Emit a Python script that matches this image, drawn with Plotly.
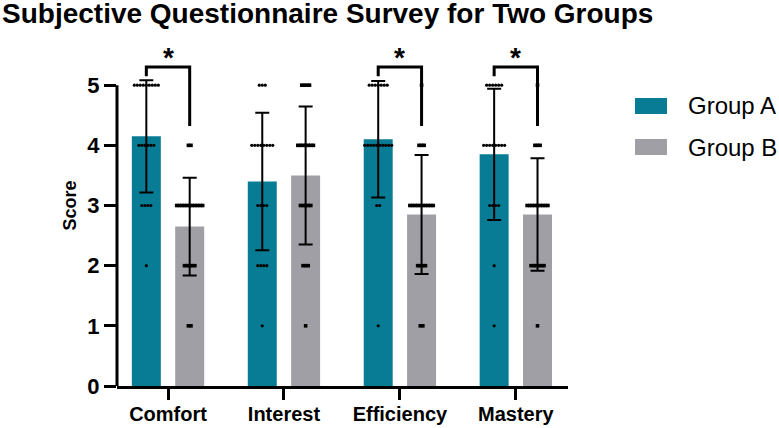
import numpy as np
import plotly.graph_objects as go

# ---------------- data ----------------
categories = ["Comfort", "Interest", "Efficiency", "Mastery"]
score_levels = [5, 4, 3, 2, 1]
# number of respondents giving each score level (5,4,3,2,1) per category
group_a_counts = [[9, 6, 4, 1, 0], [3, 8, 4, 4, 1], [7, 10, 2, 0, 1], [6, 8, 4, 1, 1]]
group_b_counts = [[0, 2, 11, 5, 2], [4, 7, 5, 3, 1], [1, 3, 10, 4, 2], [1, 3, 9, 6, 1]]
significant = ["Comfort", "Efficiency", "Mastery"]
y_ticks = [0, 1, 2, 3, 4, 5]
group_names = ["Group A", "Group B"]
group_colors = ["#087C94", "#A19FA6"]

# ---------------- layout constants ----------------
W, H = 779, 428
ML, MR, MT, MB = 117, 211, 25, 42
XR = [-0.44, 3.45]
YR = [0, 6]
PW = W - ML - MR
PH = H - MT - MB
px_per_x = PW / (XR[1] - XR[0])
OFF = 0.187
BW = 0.25
FONT = "Arial, Liberation Sans, sans-serif"


def px2paper_x(px):
    return (px - ML) / PW


def px2paper_y(py):
    return (H - MB - py) / PH


def expand(counts):
    vals = []
    for lvl, c in zip(score_levels, counts):
        vals += [lvl] * c
    return np.array(vals, dtype=float)


fig = go.Figure()

groups = [group_a_counts, group_b_counts]
marker_cfg = [dict(symbol="circle", size=3.2, spacing=3.0),
              dict(symbol="square", size=3.6, spacing=2.6)]

for g, (counts_all, name, color) in enumerate(zip(groups, group_names, group_colors)):
    sign = -1 if g == 0 else 1
    xs = [i + sign * OFF for i in range(len(categories))]
    data = [expand(c) for c in counts_all]
    means = [d.mean() for d in data]
    sds = [d.std(ddof=1) for d in data]
    fig.add_trace(go.Bar(
        x=xs, y=means, width=BW, name=name,
        marker=dict(color=color, line=dict(width=0)),
        error_y=dict(type="data", array=sds, visible=True,
                     color="black", thickness=2, width=7),
        showlegend=False,
    ))
    # individual points
    dx, dy = [], []
    cfg = marker_cfg[g]
    sp = cfg["spacing"] / px_per_x
    for i, counts in enumerate(counts_all):
        for lvl, c in zip(score_levels, counts):
            if c == 0:
                continue
            s = sp
            if (c - 1) * s > BW * 0.95:
                s = BW * 0.95 / (c - 1)
            for j in range(c):
                dx.append(xs[i] + (j - (c - 1) / 2) * s)
                dy.append(lvl)
    fig.add_trace(go.Scatter(
        x=dx, y=dy, mode="markers", showlegend=False, hoverinfo="skip",
        marker=dict(symbol=cfg["symbol"], size=cfg["size"], color="black",
                    line=dict(width=0)),
        cliponaxis=False,
    ))

shapes = []
annotations = []
# significance brackets
for cat in significant:
    i = categories.index(cat)
    xa, xb = i - OFF, i + OFF
    shapes.append(dict(
        type="path", xref="x", yref="y",
        path=f"M {xa},5.15 L {xa},5.3 L {xb},5.3 L {xb},4.32",
        line=dict(color="black", width=3),
    ))
    annotations.append(dict(
        x=i, y=5.3, xref="x", yref="y", text="<b>*</b>", showarrow=False,
        yanchor="bottom", yshift=-8, font=dict(family=FONT, size=28, color="black"),
    ))

# y axis line (0..5 only)
shapes.append(dict(type="line", xref="paper", yref="paper",
                   x0=0, x1=0, y0=0, y1=5 / 6,
                   line=dict(color="black", width=3)))

# manual legend
for g, (name, color) in enumerate(zip(group_names, group_colors)):
    top = 98 + g * 41
    shapes.append(dict(type="rect", xref="paper", yref="paper",
                       x0=px2paper_x(635), x1=px2paper_x(667),
                       y0=px2paper_y(top + 16), y1=px2paper_y(top),
                       fillcolor=color, line=dict(width=0)))
    annotations.append(dict(
        x=px2paper_x(686), y=px2paper_y(top + 8), xref="paper", yref="paper",
        text=name, showarrow=False, xanchor="left", yanchor="middle",
        font=dict(family=FONT, size=24, color="black"),
    ))

# title
annotations.append(dict(
    x=px2paper_x(0), y=px2paper_y(0), xref="paper", yref="paper",
    text="<b>Subjective Questionnaire Survey for Two Groups</b>", showarrow=False,
    xanchor="left", yanchor="top", yshift=4,
    font=dict(family=FONT, size=28, color="black"),
))

fig.update_layout(
    width=W, height=H,
    margin=dict(l=ML, r=MR, t=MT, b=MB, autoexpand=False),
    paper_bgcolor="white", plot_bgcolor="white",
    barmode="overlay",
    xaxis=dict(range=XR, tickmode="array", tickvals=list(range(len(categories))),
               ticktext=[f"<b>{c}</b>" for c in categories],
               showline=True, linecolor="black", linewidth=3,
               ticks="outside", ticklen=11, tickwidth=2.5, tickcolor="black",
               showgrid=False, zeroline=False, automargin=False,
               ticklabelstandoff=-3,
               tickfont=dict(family=FONT, size=20, color="black")),
    yaxis=dict(range=YR, tickmode="array", tickvals=y_ticks,
               ticktext=[f"<b>{t}</b>" for t in y_ticks],
               showline=False, ticks="outside", ticklen=12, tickwidth=2.5,
               tickcolor="black", showgrid=False, zeroline=False, automargin=False,
               tickfont=dict(family=FONT, size=22, color="black"),
               title=dict(text="<b>Score</b>", standoff=6,
                          font=dict(family=FONT, size=18, color="black"))),
    shapes=shapes,
    annotations=annotations,
)

fig.write_html("out.html")
